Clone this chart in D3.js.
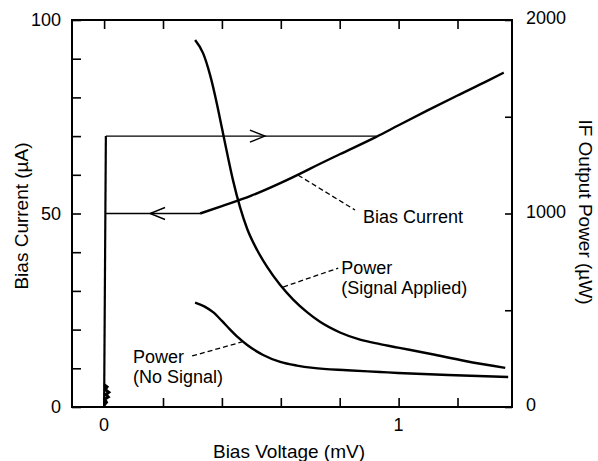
<!DOCTYPE html>
<html>
<head>
<meta charset="utf-8">
<script src="https://cdn.jsdelivr.net/npm/d3@7"></script>
<style>
  body { margin: 0; background: #fff; }
  text { font-family: "Liberation Sans", Arial, Helvetica, sans-serif; fill: #000; }
</style>
</head>
<body>
<div id="viz"></div>
<script>
//-------Data--------------------------------
// bias current (uA) vs bias voltage (mV), sloped branch
var biasV = [0.326, 0.40, 0.50, 0.60, 0.666, 0.70, 0.80, 0.924, 1.00, 1.10, 1.20, 1.30, 1.357];
var biasI = [50.0, 51.9, 54.6, 57.9, 60.3, 61.6, 65.3, 69.8, 72.8, 76.7, 80.5, 84.2, 86.4];

// hysteresis loop: jump at zero voltage, then flat lines at 70 and 50 uA
var jumpV = [0.0, 0.006];
var jumpI = [0, 70];
var upperV = [0.006, 0.924];   // 70 uA, going right
var upperI = 70;
var lowerV = [0.006, 0.326];   // 50 uA, going left
var lowerI = 50;
var noiseV = [0.0, 0.008, 0.002, 0.014, 0.006, 0.016, 0.004, 0.010, 0.0];
var noiseI = [0.5, 1.2, 2.0, 2.6, 3.2, 3.8, 4.5, 5.2, 5.8];

// IF output power (uW), signal applied
var sigV = [0.309, 0.336, 0.360, 0.384, 0.401, 0.418, 0.438, 0.462, 0.486, 0.520, 0.553,
            0.598, 0.642, 0.689, 0.733, 0.801, 0.869, 0.937, 0.998, 1.110, 1.226, 1.362];
var sigP = [1897, 1829, 1715, 1560, 1435, 1310, 1170, 1030, 920, 810, 725,
            630, 555, 490, 440, 385, 348, 325, 307, 274, 238, 202];

// IF output power (uW), no signal
var noSigV = [0.309, 0.340, 0.370, 0.400, 0.428, 0.456, 0.486, 0.540, 0.598, 0.655, 0.710,
              0.825, 0.937, 0.998, 1.168, 1.372];
var noSigP = [540, 520, 490, 445, 400, 358, 320, 269, 233, 214, 202,
              190, 181, 176, 165, 155];

// ticks
var xTicks = [0, 0.2, 0.4, 0.6, 0.8, 1.0, 1.2];
var xLabels = [0, 1];
var leftTicks = d3.range(0, 101, 10);
var leftLabels = [0, 50, 100];
var rightTicks = [0, 500, 1000, 1500, 2000];
var rightLabels = [0, 1000, 2000];

//---------------------------------
var width = 598,
    height = 461;
var plot = {left: 72, right: 512, top: 20, bottom: 407};
var tickLen = 9;

var svg = d3.select("#viz")
  .append("svg")
    .attr("width", width)
    .attr("height", height);

//------Scales-----------
var xScale = d3.scaleLinear()
    .domain([-0.109, 1.385])
    .range([plot.left, plot.right]);

var yLeft = d3.scaleLinear()
    .domain([0, 100])
    .range([plot.bottom, plot.top]);

var yRight = d3.scaleLinear()
    .domain([0, 2000])
    .range([plot.bottom, plot.top]);

//------Axes (ticks inside the frame)-----------
function styleAxis(g) {
  g.select(".domain").remove();
  g.selectAll(".tick line").attr("stroke", "#000").attr("stroke-width", 1.6);
}

svg.append("g")
    .attr("transform", "translate(0," + plot.bottom + ")")
    .call(d3.axisTop(xScale).tickValues(xTicks).tickSize(tickLen).tickFormat(""))
    .call(styleAxis);

svg.append("g")
    .attr("transform", "translate(0," + plot.top + ")")
    .call(d3.axisBottom(xScale).tickValues(xTicks).tickSize(tickLen).tickFormat(""))
    .call(styleAxis);

svg.append("g")
    .attr("transform", "translate(" + plot.left + ",0)")
    .call(d3.axisRight(yLeft).tickValues(leftTicks).tickSize(tickLen).tickFormat(""))
    .call(styleAxis);

svg.append("g")
    .attr("transform", "translate(" + plot.right + ",0)")
    .call(d3.axisLeft(yRight).tickValues(rightTicks).tickSize(tickLen - 2).tickFormat(""))
    .call(styleAxis);

// tick labels
svg.append("g").selectAll("text")
  .data(xLabels).enter().append("text")
    .attr("x", d => xScale(d))
    .attr("y", 431)
    .attr("text-anchor", "middle")
    .style("font-size", "18px")
    .text(d => d);

svg.append("g").selectAll("text")
  .data(leftLabels).enter().append("text")
    .attr("x", 61)
    .attr("y", d => yLeft(d) + 6)
    .attr("text-anchor", "end")
    .style("font-size", "18px")
    .text(d => d);

svg.append("g").selectAll("text")
  .data(rightLabels).enter().append("text")
    .attr("x", 526)
    .attr("y", d => yRight(d) + 4)
    .attr("text-anchor", "start")
    .style("font-size", "18px")
    .text(d => d);

// frame
svg.append("rect")
    .attr("x", plot.left)
    .attr("y", plot.top)
    .attr("width", plot.right - plot.left)
    .attr("height", plot.bottom - plot.top)
    .attr("fill", "none")
    .attr("stroke", "#000")
    .attr("stroke-width", 2);

// axis titles
svg.append("text")
    .attr("transform", "translate(28,216) rotate(-90)")
    .attr("text-anchor", "middle")
    .style("font-size", "19px")
    .text("Bias Current (\u00b5A)");

svg.append("text")
    .attr("transform", "translate(579,212) rotate(90)")
    .attr("text-anchor", "middle")
    .style("font-size", "19px")
    .text("IF Output Power (\u00b5W)");

svg.append("text")
    .attr("x", 289)
    .attr("y", 458)
    .attr("text-anchor", "middle")
    .style("font-size", "19px")
    .text("Bias Voltage (mV)");

//------Curves--------------------
var container = svg.append("g").attr("id", "curves");

var lineLeft = d3.line().x(d => xScale(d[0])).y(d => yLeft(d[1]));
var lineRight = d3.line().x(d => xScale(d[0])).y(d => yRight(d[1])).curve(d3.curveMonotoneX);
var lineLeftSmooth = d3.line().x(d => xScale(d[0])).y(d => yLeft(d[1])).curve(d3.curveMonotoneX);

function pairs(xs, ys) { return xs.map((x, i) => [x, ys[i]]); }

// zero-voltage jump
container.append("path")
    .attr("d", lineLeft(pairs(jumpV, jumpI)))
    .attr("fill", "none").attr("stroke", "#000").attr("stroke-width", 2.2);

container.append("path")
    .attr("d", lineLeft(pairs(noiseV, noiseI)))
    .attr("fill", "none").attr("stroke", "#000").attr("stroke-width", 3);

// flat branches
container.append("path")
    .attr("d", lineLeft(upperV.map(v => [v, upperI])))
    .attr("fill", "none").attr("stroke", "#000").attr("stroke-width", 1.4);

container.append("path")
    .attr("d", lineLeft(lowerV.map(v => [v, lowerI])))
    .attr("fill", "none").attr("stroke", "#000").attr("stroke-width", 1.4);

// open arrow heads on the flat branches
function chevron(v, i, dir) {
  var tx = xScale(v), ty = yLeft(i);
  return "M" + (tx - dir * 15) + "," + (ty - 6) + "L" + tx + "," + ty + "L" + (tx - dir * 15) + "," + (ty + 6);
}
container.append("path")
    .attr("d", chevron(0.546, upperI, 1))
    .attr("fill", "none").attr("stroke", "#000").attr("stroke-width", 1.4);
container.append("path")
    .attr("d", chevron(0.156, lowerI, -1))
    .attr("fill", "none").attr("stroke", "#000").attr("stroke-width", 1.4);

// sloped bias current
container.append("path")
    .attr("d", lineLeftSmooth(pairs(biasV, biasI)))
    .attr("fill", "none").attr("stroke", "#000").attr("stroke-width", 2.4);

// power curves
container.append("path")
    .attr("d", lineRight(pairs(sigV, sigP)))
    .attr("fill", "none").attr("stroke", "#000").attr("stroke-width", 2.4);

container.append("path")
    .attr("d", lineRight(pairs(noSigV, noSigP)))
    .attr("fill", "none").attr("stroke", "#000").attr("stroke-width", 2.4);

//------Annotations--------------------
var notes = svg.append("g").attr("id", "notes");

function leader(p0, p1, yS) {
  notes.append("line")
      .attr("x1", xScale(p0[0])).attr("y1", yS(p0[1]))
      .attr("x2", xScale(p1[0])).attr("y2", yS(p1[1]))
      .attr("stroke", "#000").attr("stroke-width", 1.3)
      .attr("stroke-dasharray", "5,3");
}
function label(v, val, yS, lines) {
  var t = notes.append("text")
      .attr("x", xScale(v)).attr("y", yS(val))
      .style("font-size", "18px");
  lines.forEach((s, i) => {
    t.append("tspan").attr("x", xScale(v)).attr("dy", i ? 20 : 0).text(s);
  });
}

leader([0.659, 59.9], [0.852, 50.9], yLeft);
label(0.879, 47.5, yLeft, ["Bias Current"]);

leader([0.608, 620], [0.795, 718], yRight);
label(0.805, 687, yRight, ["Power", "(Signal Applied)"]);

leader([0.299, 264], [0.468, 336], yRight);
label(0.098, 227, yRight, ["Power", "(No Signal)"]);
</script>
</body>
</html>
